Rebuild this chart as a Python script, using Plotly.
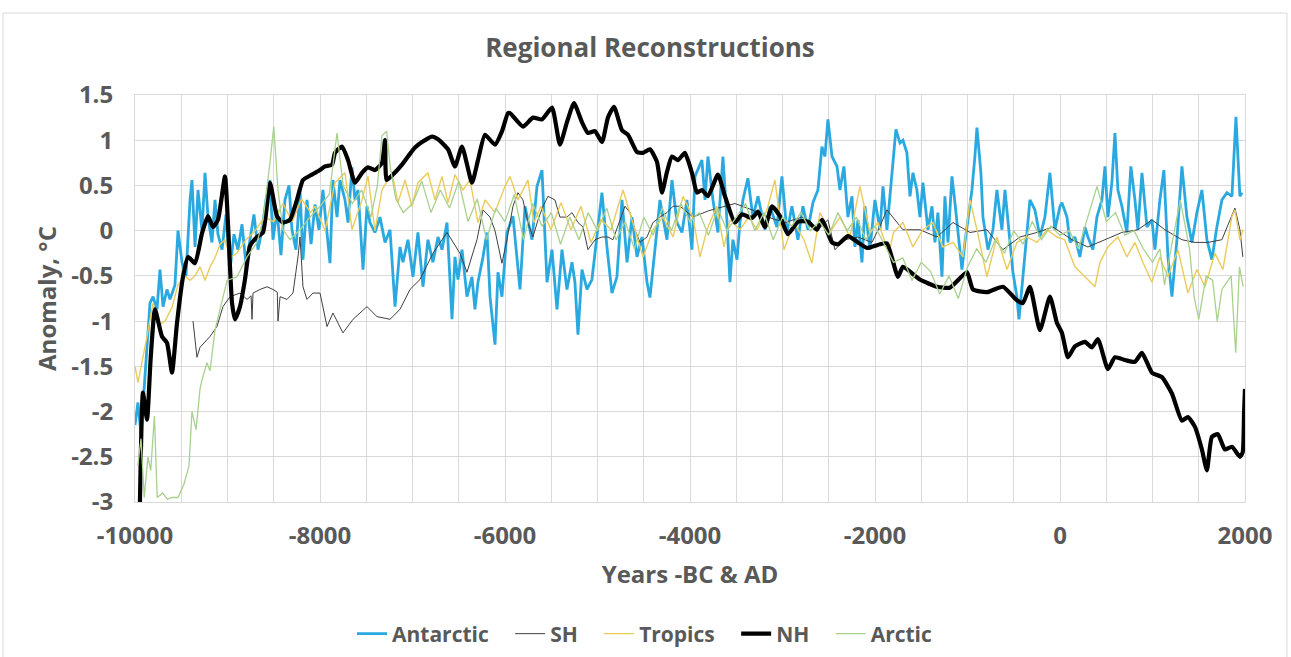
import plotly.graph_objects as go

# ---------------- data ----------------
x_tick_vals = [-10000, -8000, -6000, -4000, -2000, 0, 2000]
x_tick_text = ["-10000", "-8000", "-6000", "-4000", "-2000", "0", "2000"]
y_tick_vals = [1.5, 1, 0.5, 0, -0.5, -1, -1.5, -2, -2.5, -3]
y_tick_text = ["1.5", "1", "0.5", "0", "-0.5", "-1", "-1.5", "-2", "-2.5", "-3"]

antarctic_years = [
    -10000, -9968, -9935, -9892, -9838, -9805, -9762, -9730, -9697, -9654, -9622, -9568, -9535, -9492,
    -9449, -9405, -9384, -9351, -9319, -9276, -9243, -9211, -9168, -9135, -9103, -9059, -9016, -8973,
    -8930, -8887, -8843, -8800, -8757, -8714, -8670, -8627, -8584, -8541, -8508, -8465, -8422, -8379,
    -8335, -8303, -8260, -8216, -8184, -8141, -8097, -8054, -8011, -7968, -7946, -7892, -7860, -7816,
    -7784, -7730, -7697, -7654, -7622, -7589, -7535, -7492, -7460, -7406, -7352, -7297, -7243, -7189,
    -7135, -7103, -7049, -6995, -6941, -6887, -6833, -6779, -6724, -6681, -6627, -6573, -6541, -6508,
    -6465, -6411, -6357, -6325, -6292, -6238, -6195, -6162, -6108, -6076, -6033, -5979, -5914, -5838,
    -5784, -5708, -5654, -5600, -5546, -5492, -5438, -5384, -5330, -5276, -5244, -5211, -5168, -5114,
    -5060, -5006, -4952, -4898, -4844, -4790, -4735, -4681, -4627, -4573, -4519, -4465, -4433, -4357,
    -4325, -4249, -4195, -4141, -4087, -4033, -3979, -3946, -3871, -3838, -3806, -3752, -3698, -3644,
    -3601, -3568, -3536, -3492, -3460, -3428, -3374, -3320, -3265, -3190, -3136, -3060, -3006, -2952,
    -2898, -2833, -2779, -2725, -2671, -2617, -2574, -2541, -2509, -2465, -2411, -2379, -2336, -2293,
    -2249, -2217, -2184, -2141, -2109, -2055, -2001, -1946, -1914, -1871, -1817, -1774, -1730, -1698,
    -1655, -1622, -1590, -1547, -1514, -1482, -1428, -1384, -1352, -1320, -1276, -1244, -1211, -1168,
    -1136, -1103, -1060, -1028, -995, -952, -920, -898, -855, -833, -779, -725, -682, -628,
    -595, -552, -509, -466, -444, -401, -358, -325, -271, -217, -163, -109, -55, 0,
    21, 75, 108, 161, 215, 270, 302, 356, 399, 453, 486, 518, 561, 594,
    626, 669, 723, 766, 810, 842, 886, 940, 994, 1026, 1080, 1123, 1167, 1210,
    1264, 1318, 1372, 1426, 1480, 1534, 1588, 1642, 1696, 1750, 1805, 1859, 1902, 1945, 1967,
]
antarctic_vals = [
    -2.15, -1.9, -2.25, -1.6, -0.8, -0.73, -0.87, -0.43, -0.84, -0.65, -0.76, -0.6, 0.0, -0.35,
    -0.5, 0.34, 0.56, -0.18, 0.45, 0.0, 0.64, 0.15, -0.13, 0.34, -0.04, -0.21, 0.18, -0.43,
    -0.04, -0.21, 0.07, -0.38, -0.1, 0.18, -0.21, 0.01, 0.34, 0.56, -0.1, 0.23, -0.27, 0.34,
    0.5, 0.01, -0.21, 0.45, -0.32, 0.34, -0.15, 0.29, 0.01, 0.45, 0.2, -0.36, 0.56, 0.15,
    0.56, 0.34, 0.09, 0.7, 0.34, 0.45, -0.43, 0.27, 0.09, -0.02, 0.15, -0.13, 0.01, -0.84,
    -0.18, -0.35, -0.1, -0.51, -0.02, -0.62, -0.1, -0.35, -0.07, -0.21, 0.09, -0.98, -0.29, -0.54,
    -0.21, -0.73, -0.51, -0.87, -0.57, -0.29, -0.02, -0.73, -1.26, -0.46, -0.73, -0.02, 0.16, -0.65,
    0.27, -0.1, 0.49, 0.67, -0.57, -0.21, -0.87, -0.21, -0.65, -0.35, -0.57, -1.15, -0.43, -0.65,
    -0.54, -0.07, 0.42, -0.18, -0.69, -0.51, 0.34, -0.35, 0.15, -0.29, -0.07, -0.57, -0.74, 0.01,
    0.34, -0.1, 0.56, 0.09, -0.02, 0.34, -0.21, 0.6, 0.78, 0.34, 0.82, 0.34, -0.02, 0.82,
    0.12, -0.57, -0.1, -0.32, 0.09, 0.34, 0.58, 0.15, 0.38, 0.01, 0.27, 0.04, 0.6, -0.02,
    0.27, -0.1, 0.27, 0.01, 0.31, 0.45, 0.93, 0.82, 1.23, 0.82, 0.71, 0.45, 0.71, 0.15,
    0.38, -0.18, 0.12, -0.35, 0.27, -0.21, 0.34, 0.01, 0.49, 0.01, 0.6, 1.12, 0.97, 1.0,
    0.86, 0.38, 0.64, 0.45, 0.15, 0.53, 0.01, 0.27, -0.13, 0.2, -0.51, 0.38, -0.13, 0.6,
    0.31, 0.01, -0.43, -0.13, 0.15, 0.45, 0.82, 1.14, 0.64, 0.15, -0.21, 0.01, 0.45, 0.01,
    0.45, 0.01, -0.46, -0.73, -0.98, -0.51, 0.01, 0.34, 0.23, -0.07, 0.15, 0.64, 0.01, 0.27,
    0.31, 0.15, -0.13, -0.07, -0.29, 0.04, -0.07, -0.21, 0.15, 0.34, 0.71, 0.15, 0.53, 1.08,
    0.45, 0.27, -0.02, 0.71, 0.34, 0.01, 0.64, 0.04, 0.12, -0.21, 0.34, 0.67, -0.29, -0.73,
    -0.1, 0.71, 0.15, -0.13, 0.2, 0.45, -0.1, -0.32, 0.04, 0.34, 0.42, 0.38, 1.26, 0.38, 0.42,
]

sh_years = [
    -9373, -9330, -9297, -9189, -9114, -9049, -8973, -8865, -8789, -8745, -8735, -8724, -8649, -8573,
    -8508, -8462, -8454, -8432, -8357, -8292, -8238, -8216, -8184, -8141, -8076, -8000, -7924, -7860,
    -7752, -7643, -7492, -7384, -7243, -7135, -7027, -6919, -6779, -6627, -6487, -6411, -6303, -6238,
    -6162, -6108, -6033, -5979, -5914, -5860, -5806, -5752, -5698, -5643, -5589, -5535, -5460, -5406,
    -5330, -5276, -5211, -5157, -5103, -5027, -4952, -4887, -4833, -4757, -4703, -4649, -4595, -4541,
    -4465, -4400, -4325, -4249, -4184, -4108, -4033, -3968, -3800, -3514, -3330, -3157, -2973, -2790,
    -2617, -2509, -2433, -2325, -2184, -2033, -1946, -1871, -1698, -1514, -1330, -1157, -973, -790,
    -617, -433, -249, -76, 130, 302, 486, 669, 842, 994, 1134, 1318, 1459, 1600,
    1750, 1837, 1891, 1945, 1977,
]
sh_vals = [
    -1.0, -1.4, -1.29, -1.17, -1.06, -0.84, -0.73, -0.69, -0.76, -0.72, -0.98, -0.69, -0.65, -0.62,
    -0.65, -0.68, -1.0, -0.73, -0.76, -0.69, -0.29, -0.07, -0.62, -0.76, -0.69, -0.69, -1.06, -0.91,
    -1.13, -0.98, -0.84, -0.95, -0.98, -0.87, -0.65, -0.54, -0.25, -0.02, -0.25, -0.46, -0.1, 0.23,
    0.15, 0.0, -0.36, -0.1, 0.27, 0.42, 0.34, 0.09, -0.07, 0.12, 0.27, 0.38, 0.34, 0.15,
    0.15, 0.2, 0.09, 0.04, -0.21, -0.1, -0.07, -0.07, -0.1, 0.12, 0.27, 0.2, 0.01, -0.13,
    -0.07, 0.09, 0.15, 0.2, 0.27, 0.27, 0.2, 0.15, 0.22, 0.3, 0.23, 0.15, 0.09, 0.15,
    0.01, 0.12, -0.21, -0.1, -0.07, -0.13, 0.05, 0.23, 0.01, 0.01, -0.07, 0.09, -0.02, 0.01,
    -0.21, -0.07, -0.02, 0.04, -0.1, -0.18, -0.1, -0.02, 0.01, 0.12, 0.01, -0.1, -0.13, -0.13,
    -0.1, 0.12, 0.25, 0.01, -0.29,
]

tropics_years = [
    -10000, -9968, -9870, -9805, -9751, -9676, -9600, -9535, -9460, -9405, -9351, -9297, -9243, -9189,
    -9135, -9081, -9027, -8973, -8900, -8800, -8700, -8600, -8500, -8400, -8300, -8200, -8100, -8054,
    -7946, -7838, -7730, -7654, -7546, -7481, -7406, -7330, -7221, -7157, -7081, -7006, -6941, -6833,
    -6757, -6681, -6616, -6541, -6454, -6379, -6292, -6216, -6108, -6000, -5946, -5860, -5752, -5687,
    -5611, -5503, -5395, -5287, -5179, -5071, -4962, -4854, -4724, -4616, -4508, -4400, -4292, -4184,
    -4076, -3968, -3892, -3817, -3710, -3633, -3568, -3460, -3363, -3276, -3168, -3082, -2984, -2876,
    -2768, -2682, -2595, -2487, -2379, -2271, -2163, -2055, -1968, -1900, -1850, -1800, -1698, -1590,
    -1482, -1374, -1265, -1157, -1049, -973, -898, -790, -682, -573, -466, -358, -249, -141,
    -33, 50, 161, 270, 378, 432, 518, 626, 723, 810, 896, 994, 1080, 1167,
    1275, 1383, 1480, 1567, 1675, 1761, 1859, 1891, 1945, 1977,
]
tropics_vals = [
    -1.5, -1.68, -1.17, -0.8, -1.05, -1.0, -0.85, -0.6, -0.5, -0.55, -0.5, -0.4, -0.55, -0.4,
    -0.3, -0.15, -0.1, -0.3, -0.25, -0.1, 0.0, 0.15, 0.1, 0.3, 0.1, 0.35, 0.2, 0.27,
    0.0, 0.53, 0.64, 0.01, 0.34, 0.6, 0.0, 0.45, 0.64, 0.31, 0.56, 0.27, 0.53, 0.64,
    0.34, 0.6, 0.31, 0.62, 0.45, 0.56, 0.09, 0.34, 0.2, 0.49, 0.6, 0.34, 0.56, 0.09,
    0.27, 0.01, 0.31, 0.01, 0.27, -0.13, 0.12, 0.01, 0.45, 0.09, -0.29, 0.01, 0.15, -0.07,
    0.38, 0.15, -0.29, 0.01, 0.27, -0.18, 0.12, 0.01, 0.15, 0.01, 0.23, 0.56, -0.21, 0.09,
    -0.1, -0.36, 0.2, -0.02, 0.15, -0.07, 0.49, -0.02, 0.09, -0.1, -0.25, -0.02, 0.09, -0.18,
    0.01, 0.09, -0.18, -0.13, -0.29, 0.34, 0.01, -0.51, -0.07, -0.43, -0.13, -0.07, -0.13, 0.01,
    -0.07, -0.1, -0.4, -0.51, -0.62, -0.35, -0.18, -0.07, -0.29, -0.13, -0.35, -0.57, -0.29, -0.51,
    -0.21, -0.69, -0.43, -0.62, -0.25, -0.43, 0.16, 0.23, -0.1, 0.01,
]

nh_years = [
    -9950, -9914, -9870, -9830, -9784, -9708, -9654, -9600, -9546, -9481, -9427, -9351, -9276, -9211,
    -9157, -9103, -9027, -8995, -8951, -8919, -8865, -8811, -8757, -8681, -8616, -8541, -8465, -8400,
    -8324, -8249, -8184, -8087, -8000, -7946, -7870, -7838, -7762, -7697, -7622, -7546, -7481, -7406,
    -7330, -7297, -7280, -7211, -7114, -7049, -6973, -6897, -6789, -6724, -6616, -6541, -6465, -6357,
    -6292, -6216, -6108, -6032, -5968, -5946, -5806, -5698, -5600, -5492, -5406, -5330, -5254, -5168,
    -5103, -5027, -4951, -4887, -4822, -4735, -4670, -4573, -4508, -4433, -4357, -4303, -4249, -4195,
    -4130, -4076, -4054, -3979, -3925, -3871, -3806, -3698, -3622, -3514, -3438, -3330, -3265, -3190,
    -3114, -3027, -2941, -2833, -2725, -2628, -2573, -2465, -2400, -2292, -2184, -2087, -1946, -1871,
    -1752, -1698, -1514, -1330, -1190, -1006, -941, -790, -617, -466, -401, -325, -217, -109,
    -33, 21, 86, 161, 270, 345, 410, 518, 594, 702, 810, 886, 994, 1102,
    1210, 1318, 1383, 1459, 1534, 1588, 1642, 1707, 1783, 1859, 1945, 1975, 1990, 2000,
]
nh_vals = [
    -3.2, -1.79, -2.09, -1.4, -0.87, -1.17, -1.24, -1.57, -1.02, -0.51, -0.29, -0.36, -0.03, 0.16,
    0.04, 0.12, 0.6, 0.08, -0.8, -0.98, -0.84, -0.54, -0.17, -0.07, -0.02, 0.53, 0.16, 0.09,
    0.12, 0.34, 0.56, 0.62, 0.67, 0.71, 0.73, 0.86, 0.93, 0.78, 0.53, 0.64, 0.7, 0.67,
    0.75, 1.0, 0.56, 0.62, 0.73, 0.82, 0.92, 0.98, 1.04, 1.01, 0.9, 0.71, 0.93, 0.53,
    0.78, 1.06, 0.95, 1.1, 1.3, 1.3, 1.15, 1.25, 1.23, 1.36, 0.95, 1.2, 1.41, 1.2,
    1.08, 1.1, 0.98, 1.25, 1.37, 1.11, 1.06, 0.87, 0.86, 0.9, 0.76, 0.42, 0.65, 0.82,
    0.78, 0.84, 0.86, 0.64, 0.42, 0.45, 0.38, 0.62, 0.38, 0.09, 0.18, 0.14, 0.21, 0.04,
    0.27, 0.16, -0.04, 0.1, 0.1, 0.01, 0.12, -0.13, -0.15, -0.06, -0.13, -0.19, -0.15, -0.14,
    -0.51, -0.4, -0.54, -0.62, -0.63, -0.46, -0.65, -0.68, -0.62, -0.77, -0.8, -0.62, -1.1, -0.73,
    -1.02, -1.13, -1.4, -1.28, -1.23, -1.29, -1.2, -1.53, -1.4, -1.43, -1.45, -1.35, -1.57, -1.62,
    -1.8, -2.1, -2.06, -2.17, -2.42, -2.65, -2.28, -2.25, -2.42, -2.39, -2.5, -2.45, -2.0, -1.75,
]

arctic_years = [
    -9970, -9935, -9900, -9860, -9830, -9790, -9760, -9700, -9650, -9600, -9535, -9470, -9416, -9384,
    -9340, -9297, -9276, -9222, -9189, -9135, -9081, -9005, -8897, -8789, -8681, -8616, -8541, -8500,
    -8454, -8400, -8324, -8216, -8108, -8000, -7900, -7816, -7750, -7650, -7550, -7450, -7380, -7330,
    -7280, -7240, -7180, -7100, -7000, -6900, -6800, -6700, -6600, -6500, -6400, -6300, -6200, -6100,
    -6000, -5900, -5800, -5700, -5600, -5500, -5400, -5300, -5200, -5100, -5000, -4900, -4800, -4700,
    -4600, -4500, -4400, -4300, -4200, -4100, -4000, -3900, -3800, -3700, -3600, -3500, -3400, -3300,
    -3200, -3100, -3000, -2900, -2800, -2700, -2600, -2500, -2400, -2300, -2200, -2100, -2000, -1900,
    -1800, -1700, -1600, -1500, -1400, -1300, -1200, -1100, -1000, -900, -800, -700, -600, -500,
    -400, -300, -200, -100, 0, 100, 200, 300, 400, 500, 600, 700, 800, 900,
    1000, 1080, 1130, 1200, 1300, 1400, 1450, 1500, 1580, 1650, 1700, 1750, 1850, 1900,
    1940, 1980,
]
arctic_vals = [
    -2.6, -2.3, -2.95, -2.5, -2.65, -2.05, -2.95, -2.9, -2.97, -2.95, -2.95, -2.8, -2.6, -2.0,
    -2.2, -1.75, -1.65, -1.46, -1.55, -1.1, -0.87, -0.55, -0.51, -0.29, -0.13, 0.12, 0.75, 1.15,
    0.45, 0.01, -0.1, 0.01, 0.15, 0.27, 0.4, 1.08, 0.5, 0.3, 0.45, 0.15, 0.5, 1.05,
    1.1, 0.7, 0.35, 0.2, 0.3, 0.55, 0.2, 0.45, 0.25, 0.55, 0.1, 0.35, -0.1, 0.25,
    0.1, 0.4, -0.1, 0.3, 0.05, 0.2, -0.15, 0.15, -0.1, 0.2, 0.0, 0.25, -0.1, 0.1,
    -0.2, 0.15, -0.05, 0.25, 0.0, 0.3, 0.1, 0.2, -0.05, 0.25, 0.0, 0.15, 0.3, 0.0,
    0.2, -0.1, 0.15, 0.05, 0.2, 0.0, 0.1, -0.05, 0.2, 0.0, 0.15, -0.1, 0.05, -0.15,
    -0.35, -0.3, -0.55, -0.35, -0.45, -0.7, -0.5, -0.75, -0.4, -0.2, -0.35, -0.1, -0.25, 0.0,
    -0.15, 0.1, -0.1, 0.05, -0.05, 0.0, -0.2, 0.15, 0.49, 0.1, 0.2, -0.05, 0.0, -0.2,
    -0.35, -0.2, -0.6, -0.2, 0.34, -0.2, -0.73, -0.98, -0.5, -0.55, -1.0, -0.65, -0.5, -1.35,
    -0.4, -0.62,
]

# ---------------- styling ----------------
TEXT = "#595959"
GRID = "#D9D9D9"
FONT = "Open Sans"
PAD = "\u00a0\u00a0\u00a0"   # extra gap after each legend entry

fig = go.Figure()
fig.add_trace(go.Scatter(x=antarctic_years, y=antarctic_vals, name="Antarctic" + PAD, mode="lines",
                         line=dict(color="#29A9E0", width=2.8)))
fig.add_trace(go.Scatter(x=sh_years, y=sh_vals, name="SH" + PAD, mode="lines",
                         line=dict(color="#404040", width=1)))
fig.add_trace(go.Scatter(x=tropics_years, y=tropics_vals, name="Tropics" + PAD, mode="lines",
                         line=dict(color="#EBCB5A", width=1.4)))
fig.add_trace(go.Scatter(x=nh_years, y=nh_vals, name="NH" + PAD, mode="lines",
                         line=dict(color="#000000", width=4.2, shape="spline", smoothing=0.5)))
fig.add_trace(go.Scatter(x=arctic_years, y=arctic_vals, name="Arctic", mode="lines",
                         line=dict(color="#A9D18E", width=1.3)))

# outer chart-area frame
fig.add_shape(type="rect", xref="paper", yref="paper",
              x0=-0.1189, x1=1.0378, y0=-0.40, y1=1.2015,
              line=dict(color=GRID, width=1), fillcolor="rgba(0,0,0,0)", layer="below")

fig.update_layout(
    width=1291, height=657,
    margin=dict(l=135, r=46, t=95, b=155, autoexpand=False),
    paper_bgcolor="white", plot_bgcolor="white",
    font=dict(family=FONT, color=TEXT),
    title=dict(text="Regional Reconstructions", xref="container", x=650 / 1291, xanchor="center",
               yref="container", y=1 - 48 / 657, yanchor="middle",
               font=dict(family=FONT, size=26, color=TEXT, weight=700)),
    showlegend=True,
    legend=dict(orientation="h", xref="container", x=352 / 1291, xanchor="left",
                yref="container", y=1 - 634 / 657, yanchor="middle",
                font=dict(family=FONT, size=21, color=TEXT, weight=700),
                itemwidth=30, tracegroupgap=0, bgcolor="rgba(0,0,0,0)"),
)

fig.update_xaxes(
    range=[-10000, 2000], automargin=False,
    tickmode="array", tickvals=x_tick_vals, ticktext=x_tick_text,
    tickfont=dict(family=FONT, size=24, color=TEXT, weight=700),
    ticklabelstandoff=12,
    showgrid=True, gridcolor=GRID, gridwidth=1,
    minor=dict(dtick=500, tick0=-10000, showgrid=True, gridcolor=GRID, gridwidth=1),
    showline=True, linecolor=GRID, mirror=True, zeroline=False, ticks="",
    title=dict(text="Years -BC & AD", standoff=16,
               font=dict(family=FONT, size=24, color=TEXT, weight=700)),
)
fig.update_yaxes(
    range=[-3, 1.5], automargin=False,
    tickmode="array", tickvals=y_tick_vals, ticktext=y_tick_text,
    tickfont=dict(family=FONT, size=24, color=TEXT, weight=700),
    ticklabelstandoff=16,
    showgrid=True, gridcolor=GRID, gridwidth=1,
    showline=True, linecolor=GRID, mirror=True, zeroline=False, ticks="",
    title=dict(text="Anomaly, °C", standoff=7,
               font=dict(family=FONT, size=24, color=TEXT, weight=700)),
)

fig.write_html("out.html",
               config={"displayModeBar": False},
               post_script="document.body.style.margin='0';document.body.style.overflow='hidden';")
